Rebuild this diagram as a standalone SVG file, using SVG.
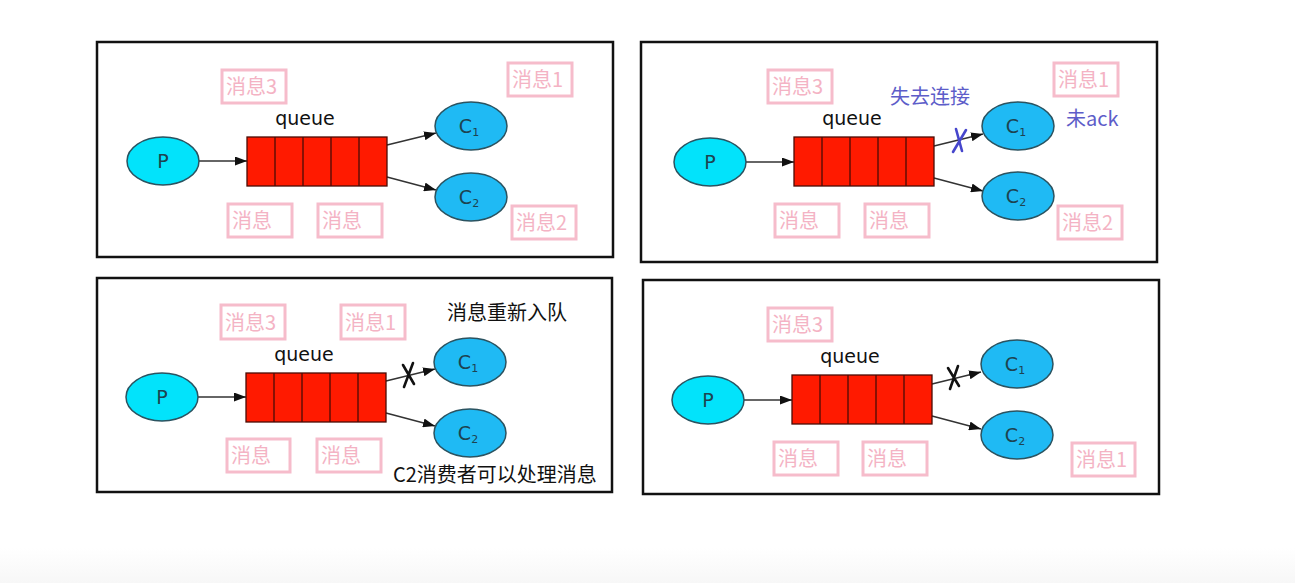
<svg xmlns="http://www.w3.org/2000/svg" width="1295" height="583" viewBox="0 0 1295 583">
<style>
.frame{fill:#fff;stroke:#111;stroke-width:2.5}
.pn{fill:#02e3fb;stroke:#2b5360;stroke-width:1.5}
.cn{fill:#1fbaf4;stroke:#2b5360;stroke-width:1.5}
.q{fill:#ff1a00;stroke:#4a0c05;stroke-width:1.3}
.ql{stroke:#4a0c05;stroke-width:1.3}
.nt{font-family:"DejaVu Sans","Liberation Sans",sans-serif;font-size:19px;fill:#1d4350;text-anchor:middle}
.sub{font-size:11px}
.qt{font-family:"DejaVu Sans","Liberation Sans",sans-serif;font-size:19px;fill:#111;text-anchor:middle}
.edge{stroke:#333;stroke-width:1.5;fill:none;marker-end:url(#ah)}
.box{fill:none;stroke:#f6bccb;stroke-width:3}
.lt{font-family:"Noto Sans CJK SC","Noto Sans",sans-serif;font-size:20px;fill:#f4b3c4}
.bt{font-family:"Noto Sans CJK SC","Noto Sans",sans-serif;font-size:20px;fill:#5d5dc9}
.kt{font-family:"Noto Sans CJK SC","Noto Sans",sans-serif;font-size:20px;fill:#111}
.xb{stroke:#4646cc;stroke-width:2.6;fill:none;stroke-linecap:round}
.xk{stroke:#111;stroke-width:2.6;fill:none;stroke-linecap:round}
</style>
<defs>
<marker id="ah" markerUnits="userSpaceOnUse" markerWidth="12" markerHeight="9" refX="12" refY="4.5" orient="auto">
<path d="M0,0 L12,4.5 L0,9 z" fill="#111"/>
</marker>
<linearGradient id="bg" x1="0" y1="0" x2="0" y2="1">
<stop offset="0" stop-color="#ffffff"/>
<stop offset="1" stop-color="#f7f7f7"/>
</linearGradient>
</defs>
<rect width="1295" height="583" fill="#fff"/>
<rect x="0" y="548" width="1295" height="35" fill="url(#bg)"/>

<!-- frames -->
<g id="frames">
<rect class="frame" x="97" y="42" width="516" height="215"/>
<rect class="frame" x="641" y="42" width="516" height="220"/>
<rect class="frame" x="97" y="278" width="515" height="214"/>
<rect class="frame" x="643" y="280" width="516" height="214"/>
</g>

<!-- connectors -->
<g id="connectors">
<line class="edge" x1="199" y1="161" x2="247" y2="161"/>
<line class="edge" x1="387" y1="145" x2="436" y2="133"/>
<line class="edge" x1="387" y1="177" x2="436" y2="190"/>
<line class="edge" x1="746" y1="162" x2="794" y2="162"/>
<line class="edge" x1="934" y1="146" x2="983" y2="134"/>
<line class="edge" x1="934" y1="178" x2="983" y2="191"/>
<line class="edge" x1="198" y1="397" x2="246" y2="397"/>
<line class="edge" x1="386" y1="381" x2="435" y2="369"/>
<line class="edge" x1="386" y1="413" x2="435" y2="426"/>
<line class="edge" x1="744" y1="400" x2="792" y2="400"/>
<line class="edge" x1="932" y1="384" x2="981" y2="372"/>
<line class="edge" x1="932" y1="416" x2="981" y2="429"/>
</g>

<!-- Panel 1 -->
<g id="p1-P" transform="translate(163,161)"><ellipse class="pn" rx="36" ry="24"/><text class="nt" y="7">P</text></g>
<g id="p1-queue" transform="translate(247,137)"><text class="qt" x="58" y="-12">queue</text><rect class="q" width="140" height="49"/><line class="ql" x1="28" y1="0" x2="28" y2="49"/><line class="ql" x1="56" y1="0" x2="56" y2="49"/><line class="ql" x1="84" y1="0" x2="84" y2="49"/><line class="ql" x1="112" y1="0" x2="112" y2="49"/></g>
<g id="p1-C1" transform="translate(471,126)"><ellipse class="cn" rx="36" ry="24"/><text class="nt" x="-2" y="7">C<tspan class="sub" dy="3">1</tspan></text></g>
<g id="p1-C2" transform="translate(471,197)"><ellipse class="cn" rx="36" ry="24"/><text class="nt" x="-2" y="7">C<tspan class="sub" dy="3">2</tspan></text></g>
<g id="p1-m3"><rect class="box" x="222" y="70" width="64" height="33"/><text class="lt" x="226" y="94">消息3</text></g>
<g id="p1-m1"><rect class="box" x="508" y="63" width="64" height="33"/><text class="lt" x="512" y="87">消息1</text></g>
<g id="p1-ma"><rect class="box" x="228" y="204" width="64" height="33"/><text class="lt" x="232" y="228">消息</text></g>
<g id="p1-mb"><rect class="box" x="318" y="204" width="64" height="33"/><text class="lt" x="322" y="228">消息</text></g>
<g id="p1-m2"><rect class="box" x="512" y="206" width="64" height="33"/><text class="lt" x="516" y="230">消息2</text></g>

<!-- Panel 2 -->
<g id="p2-P" transform="translate(710,162)"><ellipse class="pn" rx="36" ry="24"/><text class="nt" y="7">P</text></g>
<g id="p2-queue" transform="translate(794,137)"><text class="qt" x="58" y="-12">queue</text><rect class="q" width="140" height="49"/><line class="ql" x1="28" y1="0" x2="28" y2="49"/><line class="ql" x1="56" y1="0" x2="56" y2="49"/><line class="ql" x1="84" y1="0" x2="84" y2="49"/><line class="ql" x1="112" y1="0" x2="112" y2="49"/></g>
<g id="p2-C1" transform="translate(1018,126)"><ellipse class="cn" rx="36" ry="24"/><text class="nt" x="-2" y="7">C<tspan class="sub" dy="3">1</tspan></text></g>
<g id="p2-C2" transform="translate(1018,196)"><ellipse class="cn" rx="36" ry="24"/><text class="nt" x="-2" y="7">C<tspan class="sub" dy="3">2</tspan></text></g>
<g id="p2-m3"><rect class="box" x="768" y="70" width="64" height="33"/><text class="lt" x="772" y="94">消息3</text></g>
<g id="p2-m1"><rect class="box" x="1054" y="63" width="64" height="33"/><text class="lt" x="1058" y="87">消息1</text></g>
<g id="p2-ma"><rect class="box" x="775" y="204" width="64" height="33"/><text class="lt" x="779" y="228">消息</text></g>
<g id="p2-mb"><rect class="box" x="865" y="204" width="64" height="33"/><text class="lt" x="869" y="228">消息</text></g>
<g id="p2-m2"><rect class="box" x="1058" y="206" width="64" height="33"/><text class="lt" x="1062" y="230">消息2</text></g>
<g id="p2-lost"><text class="bt" x="890" y="104">失去连接</text></g>
<g id="p2-noack"><text class="bt" x="1066" y="126">未ack</text></g>
<g id="p2-x"><path class="xb" d="M956,129 L962,151 M966,130 L953,152"/></g>

<!-- Panel 3 -->
<g id="p3-P" transform="translate(162,397)"><ellipse class="pn" rx="36" ry="24"/><text class="nt" y="7">P</text></g>
<g id="p3-queue" transform="translate(246,373)"><text class="qt" x="58" y="-12">queue</text><rect class="q" width="140" height="49"/><line class="ql" x1="28" y1="0" x2="28" y2="49"/><line class="ql" x1="56" y1="0" x2="56" y2="49"/><line class="ql" x1="84" y1="0" x2="84" y2="49"/><line class="ql" x1="112" y1="0" x2="112" y2="49"/></g>
<g id="p3-C1" transform="translate(470,362)"><ellipse class="cn" rx="36" ry="24"/><text class="nt" x="-2" y="7">C<tspan class="sub" dy="3">1</tspan></text></g>
<g id="p3-C2" transform="translate(470,433)"><ellipse class="cn" rx="36" ry="24"/><text class="nt" x="-2" y="7">C<tspan class="sub" dy="3">2</tspan></text></g>
<g id="p3-m3"><rect class="box" x="221" y="305" width="64" height="34"/><text class="lt" x="225" y="330">消息3</text></g>
<g id="p3-m1"><rect class="box" x="341" y="305" width="64" height="34"/><text class="lt" x="345" y="330">消息1</text></g>
<g id="p3-ma"><rect class="box" x="227" y="439" width="63" height="33"/><text class="lt" x="231" y="463">消息</text></g>
<g id="p3-mb"><rect class="box" x="317" y="439" width="64" height="33"/><text class="lt" x="321" y="463">消息</text></g>
<g id="p3-requeue"><text class="kt" x="447" y="320">消息重新入队</text></g>
<g id="p3-c2can"><text class="kt" x="393" y="482">C2消费者可以处理消息</text></g>
<g id="p3-x"><path class="xk" d="M403,365 L414,384 M413,363 L404,387"/></g>

<!-- Panel 4 -->
<g id="p4-P" transform="translate(708,400)"><ellipse class="pn" rx="36" ry="24"/><text class="nt" y="7">P</text></g>
<g id="p4-queue" transform="translate(792,375)"><text class="qt" x="58" y="-12">queue</text><rect class="q" width="140" height="49"/><line class="ql" x1="28" y1="0" x2="28" y2="49"/><line class="ql" x1="56" y1="0" x2="56" y2="49"/><line class="ql" x1="84" y1="0" x2="84" y2="49"/><line class="ql" x1="112" y1="0" x2="112" y2="49"/></g>
<g id="p4-C1" transform="translate(1017,364)"><ellipse class="cn" rx="36" ry="24"/><text class="nt" x="-2" y="7">C<tspan class="sub" dy="3">1</tspan></text></g>
<g id="p4-C2" transform="translate(1017,435)"><ellipse class="cn" rx="36" ry="24"/><text class="nt" x="-2" y="7">C<tspan class="sub" dy="3">2</tspan></text></g>
<g id="p4-m3"><rect class="box" x="768" y="308" width="64" height="33"/><text class="lt" x="772" y="332">消息3</text></g>
<g id="p4-ma"><rect class="box" x="774" y="442" width="64" height="33"/><text class="lt" x="778" y="466">消息</text></g>
<g id="p4-mb"><rect class="box" x="863" y="442" width="64" height="33"/><text class="lt" x="867" y="466">消息</text></g>
<g id="p4-m1"><rect class="box" x="1072" y="443" width="63" height="33"/><text class="lt" x="1076" y="467">消息1</text></g>
<g id="p4-x"><path class="xk" d="M948,368 L959,386 M958,366 L950,389"/></g>
</svg>
